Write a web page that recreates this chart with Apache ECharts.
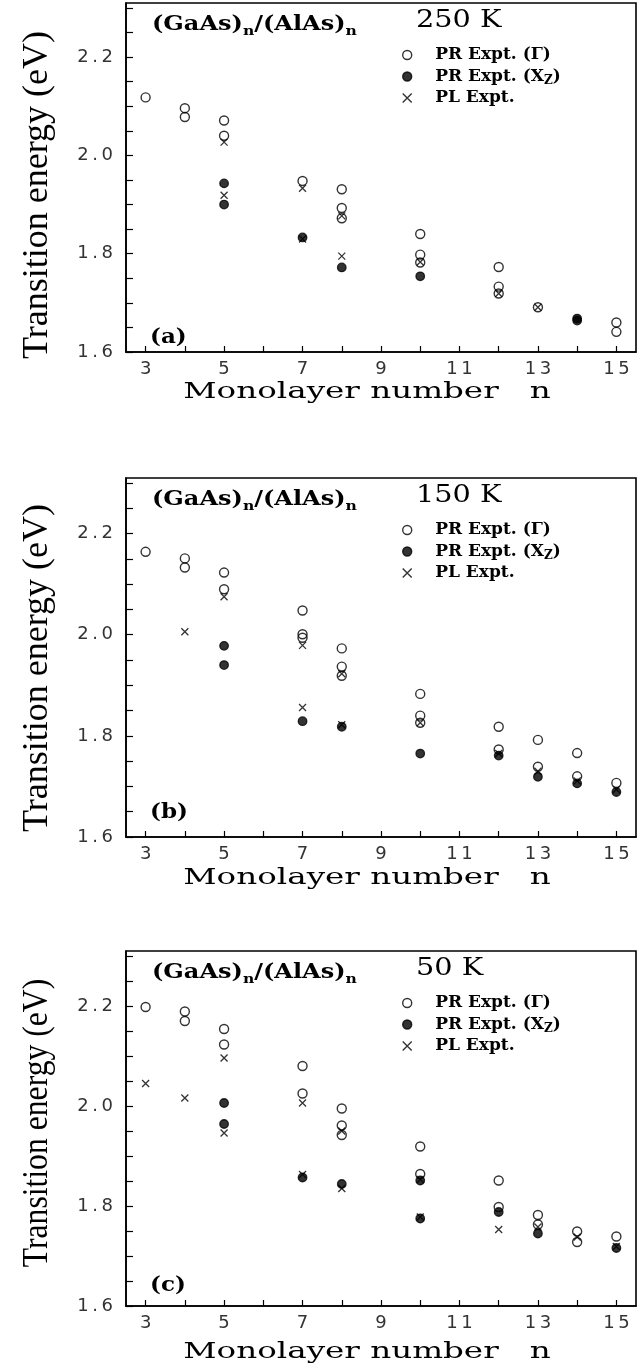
<!DOCTYPE html>
<html>
<head>
<meta charset="utf-8">
<title>GaAs/AlAs transition energies</title>
<style>
  html, body { margin: 0; padding: 0; background: #fff; }
  #chart { width: 644px; height: 1371px; }
</style>
<script src="https://cdn.jsdelivr.net/npm/echarts@6/dist/echarts.min.js"></script>
</head>
<body>
<div id="chart"></div>
<script>
// ticks
const xLabelTicks = [3, 5, 7, 9, 11, 13, 15];
const xTicks = [3, 4, 5, 6, 7, 8, 9, 10, 11, 12, 13, 14, 15];
const yLabelTicks = [1.6, 1.8, 2.0, 2.2];
const yTicks = [1.6, 1.65, 1.7, 1.75, 1.8, 1.85, 1.9, 1.95, 2.0, 2.05, 2.1, 2.15, 2.2, 2.25, 2.3];

const temps = ["250 K", "150 K", "50 K"];
const tags = ["(a)", "(b)", "(c)"];
const names = ["PR Expt. (Γ)", "PR Expt. (Xz)", "PL Expt."];

// 250 K  [n, energy eV]
const gamma250 = [[3, 2.118], [4, 2.096], [4, 2.078], [5, 2.071], [5, 2.040], [7, 1.948], [8, 1.931], [8, 1.893], [8, 1.872],
  [10, 1.840], [10, 1.798], [10, 1.782], [12, 1.773], [12, 1.733], [12, 1.719], [13, 1.691], [15, 1.660], [15, 1.641]];
const xz250 = [[5, 1.943], [5, 1.900], [7, 1.833], [8, 1.772], [10, 1.754], [14, 1.668], [14, 1.664]];
const pl250 = [[5, 2.027], [5, 1.919], [7, 1.933], [7, 1.830], [8, 1.877], [8, 1.795], [10, 1.783], [12, 1.719], [13, 1.691]];

// 150 K
const gamma150 = [[3, 2.164], [4, 2.151], [4, 2.133], [5, 2.123], [5, 2.090], [7, 2.048], [7, 2.001], [7, 1.994], [8, 1.973],
  [8, 1.937], [8, 1.919], [10, 1.883], [10, 1.840], [10, 1.826], [12, 1.818], [12, 1.773], [13, 1.792], [13, 1.739],
  [14, 1.766], [14, 1.720], [15, 1.707]];
const xz150 = [[5, 1.978], [5, 1.940], [7, 1.829], [8, 1.818], [10, 1.765], [12, 1.761], [13, 1.719], [14, 1.706], [15, 1.689]];
const pl150 = [[4, 2.006], [5, 2.075], [7, 1.979], [7, 1.856], [8, 1.923], [8, 1.822], [10, 1.826], [12, 1.765], [13, 1.730],
  [14, 1.711], [15, 1.694]];

// 50 K
const gamma50 = [[3, 2.198], [4, 2.189], [4, 2.170], [5, 2.154], [5, 2.123], [7, 2.080], [7, 2.025], [8, 1.995], [8, 1.961],
  [8, 1.942], [10, 1.919], [10, 1.864], [12, 1.851], [12, 1.798], [13, 1.782], [13, 1.763], [14, 1.749], [14, 1.728], [15, 1.739]];
const xz50 = [[5, 2.006], [5, 1.964], [7, 1.857], [8, 1.844], [10, 1.851], [10, 1.775], [12, 1.788], [13, 1.745], [15, 1.716]];
const pl50 = [[3, 2.045], [4, 2.016], [5, 2.096], [5, 1.946], [7, 2.006], [7, 1.863], [8, 1.950], [8, 1.835], [10, 1.853],
  [10, 1.778], [12, 1.753], [13, 1.758], [14, 1.738], [15, 1.719]];

const panelData = [[gamma250, xz250, pl250], [gamma150, xz150, pl150], [gamma50, xz50, pl50]];

// layout of the three frames (px)
const frames = [
  { top: 3, height: 349, ytitle: 192, ylen: 1.0, xtitle: 40 },
  { top: 478, height: 359, ytitle: 190, ylen: 1.0, xtitle: 41 },
  { top: 951, height: 355, ytitle: 172, ylen: 0.88, xtitle: 46 }
];

const serif = "DejaVu Serif";
const spaced = s => s.split("").join("\u2009");

const myChart = echarts.init(document.getElementById("chart"), null, { renderer: "canvas" });

let grid = [], xAxis = [], yAxis = [], series = [], legend = [], graphic = [];

frames.forEach((f, i) => {
  const T = f.top;
  grid.push({ left: 126, right: 8, top: T, height: f.height, show: true, borderColor: "#000", borderWidth: 1.6 });

  xAxis.push({
    type: "value", gridIndex: i, min: 2.5, max: 15.5,
    axisLine: { show: true, onZero: false, lineStyle: { color: "#000", width: 1.6 } },
    axisTick: { show: true, inside: true, length: 6, customValues: xTicks, lineStyle: { color: "#000", width: 1.2 } },
    axisLabel: {
      customValues: xLabelTicks, margin: 8, color: "#333", fontFamily: "DejaVu Sans", fontSize: 18,
      formatter: v => spaced(String(v))
    },
    splitLine: { show: false }
  });

  yAxis.push({
    type: "value", gridIndex: i, min: 1.6, max: 2.31,
    axisLine: { show: true, onZero: false, lineStyle: { color: "#000", width: 1.6 } },
    axisTick: { show: true, inside: true, length: 7, customValues: yTicks, lineStyle: { color: "#000", width: 1.2 } },
    axisLabel: {
      customValues: yLabelTicks, margin: 13, color: "#333", fontFamily: "DejaVu Sans", fontSize: 18,
      formatter: v => spaced(v.toFixed(1))
    },
    splitLine: { show: false }
  });

  const [g, xz, pl] = panelData[i];
  series.push(
    {
      type: "scatter", name: names[0], xAxisIndex: i, yAxisIndex: i, data: g, z: 2,
      symbol: "circle", symbolSize: 9,
      itemStyle: { color: "rgba(0,0,0,0)", borderColor: "#000", borderWidth: 1.4 }
    },
    {
      type: "scatter", name: names[1], xAxisIndex: i, yAxisIndex: i, data: xz, z: 3,
      symbol: "circle", symbolSize: 8.5,
      itemStyle: { color: "#000", borderColor: "#000", borderWidth: 1.3 }
    },
    {
      type: "scatter", name: names[2], xAxisIndex: i, yAxisIndex: i, data: pl, z: 4,
      symbol: "path://M0,0L10,10M0,10L10,0", symbolSize: 7,
      itemStyle: { color: "rgba(0,0,0,0)", borderColor: "#000", borderWidth: 1.3 }
    }
  );

  legend.push({
    orient: "vertical", left: 397, top: T + 37, itemWidth: 46, itemHeight: 9, itemGap: 1.5,
    selectedMode: false, data: names,
    itemStyle: { borderWidth: 1.4 },
    textStyle: {
      fontFamily: serif, fontWeight: "bold", fontSize: 17, color: "#000", lineHeight: 20,
      rich: {
        sub: { fontFamily: serif, fontWeight: "bold", fontSize: 12, color: "#000", lineHeight: 8, verticalAlign: "bottom" }
      }
    },
    formatter: n => (n === "PR Expt. (Xz)" ? "PR Expt. (X{sub|Z})" : n)
  });

  graphic.push(
    {
      type: "text", x: 152, y: T + 22, scaleX: 1.2,
      style: {
        text: "{m|(GaAs)}{s|n}{m|/(AlAs)}{s|n}",
        textVerticalAlign: "middle", verticalAlign: "middle",
        rich: {
          m: { fontFamily: serif, fontWeight: "bold", fontSize: 20, fill: "#000", lineHeight: 26 },
          s: { fontFamily: serif, fontWeight: "bold", fontSize: 13, fill: "#000", lineHeight: 9, verticalAlign: "bottom" }
        }
      }
    },
    {
      type: "text", x: 416, y: T + 17, scaleX: 1.15,
      style: { text: temps[i], font: "25px '" + serif + "'", fill: "#000", textVerticalAlign: "middle", verticalAlign: "middle" }
    },
    {
      type: "text", x: 150, y: T + 335, scaleX: 1.15,
      style: { text: tags[i], font: "bold 20px '" + serif + "'", fill: "#000", textVerticalAlign: "middle", verticalAlign: "middle" }
    },
    {
      type: "text", x: 38, y: T + f.ytitle, rotation: Math.PI / 2, scaleX: f.ylen,
      style: {
        text: "Transition energy (eV)", font: "36px 'Liberation Serif'", fill: "#000",
        textAlign: "center", align: "center", textVerticalAlign: "middle", verticalAlign: "middle"
      }
    },
    {
      type: "text", x: 367, y: T + f.height + f.xtitle, scaleX: 1.48,
      style: {
        text: "Monolayer number   n", font: "22px '" + serif + "'", fill: "#000",
        textAlign: "center", align: "center", textVerticalAlign: "middle", verticalAlign: "middle"
      }
    }
  );
});

const option = {
  backgroundColor: "#fff",
  animation: false,
  grid: grid,
  xAxis: xAxis,
  yAxis: yAxis,
  legend: legend,
  graphic: graphic,
  series: series
};

myChart.clear();
myChart.setOption(option);
</script>
</body>
</html>
